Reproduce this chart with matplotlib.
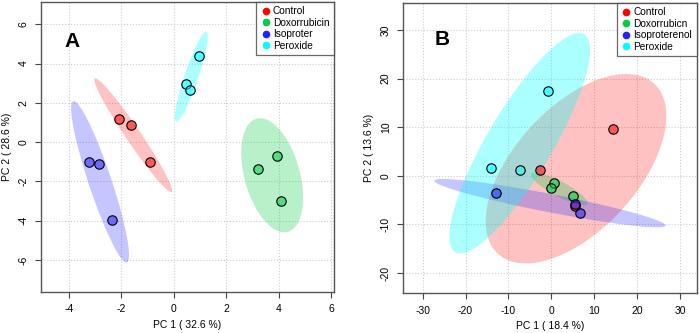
import numpy as np
import matplotlib
matplotlib.use("Agg")
import matplotlib.pyplot as plt
from matplotlib.colors import to_rgba

plt.rcParams['font.family'] = ['Liberation Sans', 'DejaVu Sans']
plt.rcParams['axes.unicode_minus'] = False

group_colors = ['#FF0000', '#00CC44', '#2222FF', '#00FFFF']

# panel A scores (PC1, PC2) per group
groups_a = ['Control', 'Doxorrubicin', 'Isoproter', 'Peroxide']
pc1_a = [[-2.1, -1.65, -0.9],
         [3.2, 3.95, 4.1],
         [-3.25, -2.85, -2.35],
         [0.45, 0.6, 0.95]]
pc2_a = [[1.2, 0.85, -1.0],
         [-1.35, -0.7, -3.0],
         [-1.0, -1.1, -3.95],
         [2.95, 2.65, 4.4]]

# panel B scores
groups_b = ['Control', 'Doxorrubicn', 'Isoproterenol', 'Peroxide']
pc1_b = [[-2.7, 14.5, 5.5],
         [0.7, 0.0, 5.0],
         [-13.0, 5.5, 6.6],
         [-14.1, -7.3, -0.7]]
pc2_b = [[1.1, 9.6, -6.3],
         [-1.4, -2.5, -4.15],
         [-3.5, -5.8, -7.55],
         [1.65, 1.1, 17.4]]

ellipse_alpha = [0.24, 0.28, 0.26, 0.33]


def conf_ellipse(x, y, n=200):
    # 95% normal ellipse from the group covariance
    pts = np.vstack([x, y])
    mu = pts.mean(axis=1)
    cov = np.cov(pts)
    w, v = np.linalg.eigh(cov)
    r = np.sqrt(-2 * np.log(0.05))
    t = np.linspace(0, 2 * np.pi, n)
    circ = np.vstack([np.cos(t), np.sin(t)])
    e = mu[:, None] + r * (v @ (np.sqrt(np.maximum(w, 0))[:, None] * circ))
    return e[0], e[1]


def draw_panel(ax, groups, pc1, pc2, xlim, ylim, xticks, yticks, xlab, ylab, tag, tagpos):
    for i in range(len(groups)):
        ex, ey = conf_ellipse(pc1[i], pc2[i])
        ax.fill(ex, ey, color=group_colors[i], alpha=ellipse_alpha[i], lw=0, zorder=1)
    for i in range(len(groups)):
        ax.scatter(pc1[i], pc2[i], s=46, facecolor=to_rgba(group_colors[i], 0.55),
                   edgecolor='black', linewidth=0.8, zorder=3)
    ax.set_xlim(*xlim)
    ax.set_ylim(*ylim)
    ax.set_xticks(xticks)
    ax.set_yticks(yticks)
    ax.grid(True, color='#cccccc', linestyle=':', linewidth=0.8, zorder=0)
    ax.set_axisbelow(True)
    ax.tick_params(labelsize=7.5, length=4, width=0.8, color='#444444', pad=5)
    for lab in ax.get_yticklabels():
        lab.set_rotation(90)
        lab.set_va('center')
    for s in ax.spines.values():
        s.set_color('#555555')
        s.set_linewidth(1.0)
    ax.set_xlabel(xlab, fontsize=7.5, labelpad=4)
    ax.set_ylabel(ylab, fontsize=7.5, labelpad=5)
    ax.text(tagpos[0], tagpos[1], tag, transform=ax.transAxes, fontsize=15,
            fontweight='bold', ha='center', va='center')
    handles = [plt.Line2D([], [], marker='o', ls='', color=c, markersize=4.5)
               for c in group_colors]
    leg = ax.legend(handles, groups, loc='upper right', fontsize=7.3, frameon=True,
                    fancybox=False, borderaxespad=0, handletextpad=0.2,
                    handlelength=1.0, labelspacing=0.15, borderpad=0.45)
    leg.get_frame().set_edgecolor('#444444')
    leg.get_frame().set_linewidth(0.9)


fig = plt.figure(figsize=(6.99, 3.33), dpi=100)
ax_a = fig.add_axes([0.0587, 0.124, 0.4191, 0.871])
ax_b = fig.add_axes([0.577, 0.12, 0.4197, 0.872])

draw_panel(ax_a, groups_a, pc1_a, pc2_a, (-5.07, 6.11), (-7.61, 7.15),
           [-4, -2, 0, 2, 4, 6], [-6, -4, -2, 0, 2, 4, 6],
           'PC 1 ( 32.6 %)', 'PC 2 ( 28.6 %)', 'A', (0.106, 0.864))
draw_panel(ax_b, groups_b, pc1_b, pc2_b, (-34.5, 33.9), (-24.1, 35.6),
           [-30, -20, -10, 0, 10, 20, 30], [-20, -10, 0, 10, 20, 30],
           'PC 1 ( 18.4 %)', 'PC 2 ( 13.6 %)', 'B', (0.132, 0.872))

fig.savefig('out.png', dpi=100)
